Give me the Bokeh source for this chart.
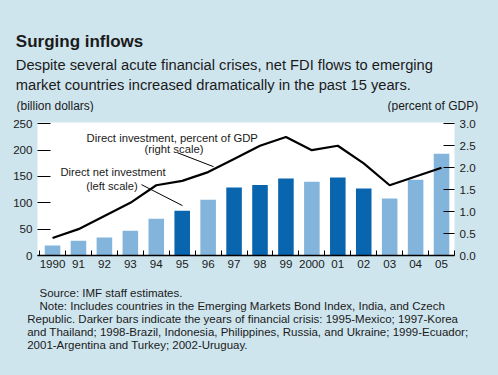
from bokeh.plotting import figure
from bokeh.layouts import column
from bokeh.models import Range1d, LinearAxis, FixedTicker, Label, ColumnDataSource
from bokeh.embed import file_html
from bokeh.resources import INLINE

# ---------------- data ----------------
years = list(range(1990, 2006))
year_labels = ["1990", "91", "92", "93", "94", "95", "96", "97", "98", "99",
               "2000", "01", "02", "03", "04", "05"]
fdi_billion = [19, 28, 34, 47, 70, 85, 106, 129, 134, 146, 140, 148, 127, 108, 144, 193]
fdi_pct_gdp = [0.4, 0.6, 0.9, 1.2, 1.6, 1.7, 1.9, 2.2, 2.5, 2.7, 2.4, 2.5, 2.1, 1.6, 1.8, 2.0]
crisis_years = [1995, 1997, 1998, 1999, 2001, 2002]
left_ticks = [0, 50, 100, 150, 200, 250]
right_ticks = [0.0, 0.5, 1.0, 1.5, 2.0, 2.5, 3.0]
right_tick_labels = ["0.0", "0.5", "1.0", "1.5", "2.0", "2.5", "3.0"]

title = "Surging inflows"
subtitle = ["Despite several acute financial crises, net FDI flows to emerging",
            "market countries increased dramatically in the past 15 years."]
footer = [
    "Source: IMF staff estimates.",
    "Note: Includes countries in the Emerging Markets Bond Index, India, and Czech",
    "Republic. Darker bars indicate the years of financial crisis: 1995-Mexico; 1997-Korea",
    "and Thailand; 1998-Brazil, Indonesia, Philippines, Russia, and Ukraine; 1999-Ecuador;",
    "2001-Argentina and Turkey; 2002-Uruguay.",
]

# ---------------- style ----------------
BG = "#cfe5ee"
LIGHT = "#82b4dc"
DARK = "#0a65af"
TXT = "#1a1a1a"
FONT = "Liberation Sans"

W = 498
TOP_H = 112        # header figure height
CH_H = 166         # chart figure height
BOT_H = 96         # footer figure height
CH_Y0 = TOP_H      # page y of chart figure top
FL, FR, FT, FB = 37, 44, 10, 23   # chart frame borders


def text_fig(h):
    f = figure(width=W, height=h, output_backend="svg", toolbar_location=None,
               x_range=Range1d(0, W), y_range=Range1d(h, 0),
               min_border=0, min_border_left=0, min_border_right=0,
               min_border_top=0, min_border_bottom=0,
               background_fill_color=BG, border_fill_color=BG,
               outline_line_color=None, x_axis_type=None, y_axis_type=None)
    f.frame_align = False
    return f


def label(f, txt, x, y, size, bold=False, align="left", units="data"):
    f.add_layout(Label(x=x, y=y, x_units=units, y_units=units, text=txt,
                       text_font=FONT, text_font_size=size, text_color=TXT,
                       text_font_style="bold" if bold else "normal",
                       text_align=align, text_baseline="alphabetic"))


# ---------------- header ----------------
top = text_fig(TOP_H)
label(top, title, 15.3, 40.7, "17px", bold=True)
label(top, subtitle[0], 15.3, 64.3, "14.7px")
label(top, subtitle[1], 15.3, 84.3, "14.7px")
label(top, "(billion dollars)", 16, 105, "12px")
label(top, "(percent of GDP)", 477.7, 105, "12px", align="right")

# ---------------- chart ----------------
p = figure(width=W, height=CH_H, output_backend="svg", toolbar_location=None,
           x_range=Range1d(1989.42, 2005.5), y_range=Range1d(0, 252.5),
           min_border_left=FL, min_border_right=FR,
           min_border_top=FT, min_border_bottom=FB,
           background_fill_color="white", border_fill_color=BG,
           outline_line_color=None, x_axis_type=None, y_axis_type=None)
p.frame_align = False
p.extra_y_ranges = {"pct": Range1d(0, 3.03)}

colors = [DARK if y in crisis_years else LIGHT for y in years]
src = ColumnDataSource(dict(x=years, top=fdi_billion, pct=fdi_pct_gdp, color=colors))
p.vbar(x="x", top="top", width=0.6, bottom=0, fill_color="color", line_color=None, source=src)
p.line(x="x", y="pct", y_range_name="pct", line_color="black", line_width=2.2, source=src)

xa = LinearAxis(ticker=FixedTicker(ticks=years, minor_ticks=[y - 0.5 for y in years] + [2005.5]))
xa.major_label_overrides = {y: l for y, l in zip(years, year_labels)}
xa.major_tick_in = 0
xa.major_tick_out = 0
xa.minor_tick_in = 5
xa.minor_tick_out = 0
xa.minor_tick_line_color = "black"
xa.axis_line_color = "black"
xa.axis_line_width = 1.5
xa.major_label_standoff = 4
xa.major_label_text_font = FONT
xa.major_label_text_font_size = "11.6px"
xa.major_label_text_color = TXT
p.add_layout(xa, "below")

ya = LinearAxis(ticker=FixedTicker(ticks=left_ticks))
ya.major_tick_in = 13
ya.major_tick_out = 0
ya.minor_tick_line_color = None
ya.axis_line_color = None
ya.major_tick_line_color = "black"
ya.major_label_standoff = 5
ya.major_label_text_font = FONT
ya.major_label_text_font_size = "11.6px"
ya.major_label_text_color = TXT
p.add_layout(ya, "left")

ra = LinearAxis(y_range_name="pct", ticker=FixedTicker(ticks=right_ticks))
ra.major_label_overrides = {t: l for t, l in zip(right_ticks, right_tick_labels)}
ra.major_tick_in = 11
ra.major_tick_out = 0
ra.minor_tick_line_color = None
ra.axis_line_color = None
ra.major_tick_line_color = "black"
ra.major_label_standoff = 5
ra.major_label_text_font = FONT
ra.major_label_text_font_size = "11.6px"
ra.major_label_text_color = TXT
p.add_layout(ra, "right")

# leader lines (annotation positions, data coords)
p.segment(x0=[1994.82, 1993.43], y0=[195, 134.5], x1=[1996.21, 1995.01], y1=[168.6, 94.7],
          line_color="black", line_width=1)

# in-frame annotations: screen px relative to frame bottom-left
FRAME_BOTTOM_PAGE = CH_Y0 + CH_H - FB


def sx(rx):
    return rx - FL


def sy(ry):
    return FRAME_BOTTOM_PAGE - ry


label(p, "Direct investment, percent of GDP", sx(86), sy(137), "11.3px", units="screen")
label(p, "(right scale)", sx(173.5), sy(148.5), "11.3px", align="center", units="screen")
label(p, "Direct net investment", sx(60), sy(171.5), "11.2px", units="screen")
label(p, "(left scale)", sx(111.5), sy(185), "11.2px", align="center", units="screen")

# ---------------- footer ----------------
bot = text_fig(BOT_H)
BOT_Y0 = TOP_H + CH_H
indents = [39, 39, 26.7, 26.7, 26.7]
for i, (t, x0) in enumerate(zip(footer, indents)):
    label(bot, t, x0, 292.5 + 13 * i - BOT_Y0, "11.5px")

layout = column(top, p, bot, spacing=0)
html = file_html(layout, INLINE)
html = html.replace("<head>", "<head><style>body{background-color:" + BG + ";}</style>", 1)
open("out.html", "w").write(html)
